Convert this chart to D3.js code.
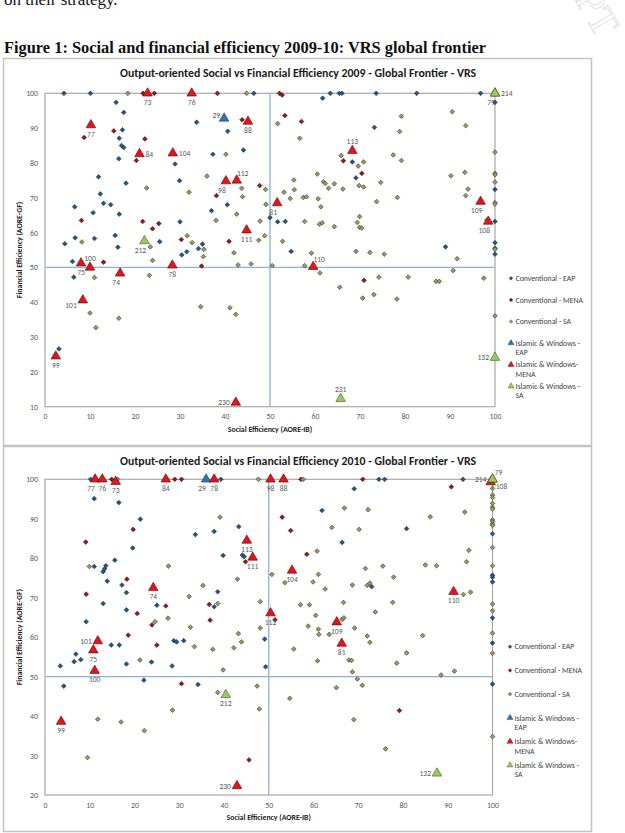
<!DOCTYPE html>
<html>
<head>
<meta charset="utf-8">
<script src="https://cdn.jsdelivr.net/npm/d3@7"></script>
<style>
  body { margin: 0; background: #fff; }
  svg { display: block; font-family: Carlito, Calibri, 'Liberation Sans', Arial, sans-serif; }
</style>
</head>
<body>
<script>
'use strict';

const xTicks = [0, 10, 20, 30, 40, 50, 60, 70, 80, 90, 100];
const yTicks2009 = [10, 20, 30, 40, 50, 60, 70, 80, 90, 100];
const yTicks2010 = [20, 30, 40, 50, 60, 70, 80, 90, 100];

const legendLabels = [
  ['Conventional - EAP'], ['Conventional - MENA'], ['Conventional - SA'],
  ['Islamic & Windows -', 'EAP'], ['Islamic & Windows-', 'MENA'], ['Islamic & Windows -', 'SA']
];

// ---- 2009 ----
const eap2009 = [
  [4.2,100],[10.1,100],[46.4,100],[63.4,100],[65.4,100],[66.0,100],[73.6,100],[82.6,100],[96.8,100],
  [15.8,97.4],[17.5,94.5],[17.2,89.5],[16.5,87.1],[17.0,85.0],[17.5,84.4],[16.4,81.2],[28.9,79.7],
  [33.7,91.7],[40.6,89.1],[44.1,83.7],[37.3,82.5],[11.9,76.0],[18.0,74.2],[29.9,74.9],[12.3,71.1],
  [13.0,68.4],[14.6,68.0],[6.6,67.4],[10.7,65.7],[16.5,65.3],[37.0,66.3],[40.5,68.0],[30.0,63.1],
  [50.0,64.3],[51.7,63.1],[53.4,63.2],[15.6,59.2],[6.7,58.5],[11.0,58.3],[4.4,56.8],[16.2,55.8],
  [35.0,56.7],[34.1,55.4],[31.5,54.5],[30.4,53.6],[25.5,57.4],[6.1,51.7],[6.4,47.2],[3.1,26.6],
  [61.7,98.6],[100,97.4],[73.2,90.2],[68.3,80.3],[69.1,75.7],[100,72.4],[100,63.2],[100,57.1],
  [100,55.5],[100,53.8],[89.0,55.9],[54.7,54.6]
];
const mena2009 = [
  [21.8,100],[24.3,100],[38.3,100],[52.1,100],[52.7,99.5],[8.7,87.3],[15.3,89.2],[22.2,86.9],
  [20.3,80.7],[43.8,92.4],[47.7,73.5],[38.1,70.6],[8.1,63.5],[21.7,63.2],[25.3,62.6],[23.9,61.1],
  [40.9,57.5],[30.3,58.0],[13.0,51.5],[34.8,50.4],[53.3,93.6],[57.0,91.9],[66.3,80.6],[70.4,77.0],
  [70.9,46.3]
];
const sa2009 = [
  [18.4,100],[44.8,100],[51.7,91.3],[40.2,82.5],[22.6,72.8],[36.0,76.2],[32.0,71.6],[43.7,72.7],
  [49.0,72.4],[43.9,70.3],[49.1,68.1],[42.6,65.3],[38.0,63.5],[47.8,63.3],[8.2,57.3],[47.5,57.8],
  [48.8,59.1],[31.6,59.1],[32.7,57.1],[35.3,55.2],[35.2,53.1],[42.0,54.2],[42.9,50.7],[45.8,51.0],
  [23.4,55.9],[23.9,52.0],[11.0,47.1],[23.2,47.7],[50.5,50.5],[10.0,36.9],[16.4,35.4],[11.3,32.7],
  [34.6,38.7],[41.1,38.4],[42.4,36.5],
  [90.5,94.7],[79.2,93.4],[93.5,90.7],[78.8,89.0],[56.6,87.1],[65.8,82.1],[70.8,80.3],[69.6,79.1],
  [77.4,82.3],[79.2,80.7],[100,83.1],[60.5,76.8],[55.3,75.1],[61.9,74.6],[62.3,74.1],[64.3,74.0],
  [63.0,72.7],[66.2,72.5],[69.8,73.5],[70.8,73.1],[74.6,74.4],[53.1,71.6],[55.4,72.3],[57.4,70.1],
  [58.1,70.3],[54.5,69.8],[60.7,69.7],[73.7,68.9],[78.3,70.1],[61.3,67.4],[90.2,76.3],[93.3,77.3],
  [100,77.0],[100,76.6],[100,74.5],[94.0,72.5],[93.5,70.6],[100,68.6],[100,68.2],[98.2,63.6],
  [100,55.2],[91.6,52.5],[57.7,63.2],[61.0,62.4],[61.6,62.8],[64.3,61.7],[69.9,64.6],[69.4,62.9],
  [69.9,61.5],[70.4,61.3],[52.8,57.5],[59.2,54.1],[69.1,54.6],[72.2,54.3],[75.4,53.8],[57.7,50.5],
  [61.1,48.4],[65.5,44.3],[74.2,47.2],[70.6,41.2],[73.1,42.2],[78.2,40.9],[80.7,47.2],[86.9,46.0],
  [87.6,46.0],[90.7,49.1],[97.5,46.9],[100,36.1]
];
const islEap2009 = [[39.8,92.8,29]];
const islMena2009 = [
  [22.8,100,73],[32.6,100,76],[10.2,90.9,77],[21.0,82.6,84],[28.4,82.8,104],[45.1,91.9,88],
  [40.2,74.8,98],[42.6,75.0,112],[51.6,68.5,81],[44.8,60.7,111],[68.3,83.5,113],[96.8,68.9,109],
  [98.5,63.2,108],[100,100,79],[8.0,51.2,75],[10.0,50.0,100],[16.7,48.3,74],[28.3,50.6,78],
  [8.4,40.6,101],[2.4,24.5,99],[42.4,11.2,230],[59.6,50.2,110]
];
const islSa2009 = [[100,100,214],[22.1,57.6,212],[65.7,12.3,231],[100,24.1,132]];
const labelPos2009 = {
  73:'b',76:'b',77:'b',84:'r',104:'r',29:'al',88:'b',98:'bl',112:'ar',81:'bl',111:'b',113:'a',
  109:'bl',108:'bl',79:'bl',214:'r',212:'bl',75:'b',100:'a',74:'bl',78:'b',101:'lb',99:'b',
  230:'l',110:'ar',231:'a',132:'l'
};

// ---- 2010 ----
const eap2010 = [
  [10.2,100],[39.3,100],[74.6,100],[75.9,100],[93.4,100],[11.0,95.1],[16.5,94.1],[21.3,89.9],
  [33.6,86.0],[37.8,86.8],[43.3,88.0],[19.6,82.6],[39.8,80.7],[44.1,80.8],[44.5,80.4],[15.6,79.5],
  [11.0,77.9],[13.6,78.1],[13.3,77.3],[13.0,76.6],[13.9,74.2],[17.2,73.2],[18.2,71.3],[38.6,71.5],
  [13.0,68.5],[25.0,68.1],[37.8,67.7],[18.2,66.9],[9.2,63.9],
  [69.1,97.6],[61.9,92.1],[80.8,87.5],[66.4,84.0],[73.0,72.8],[100,86.2],[100,75.7],[100,75.2],
  [100,74.0],[100,64.9],[100,58.5],[100,48.1],
  [49.1,59.5],[49.3,52.5],[14.8,58.0],[16.6,58.0],[6.9,55.7],[6.5,53.8],[8.0,54.3],[3.4,52.7],
  [18.2,53.2],[23.8,53.7],[28.8,59.1],[29.4,58.8],[31.0,59.1],[28.4,52.7],[22.1,49.1],[4.2,47.6],
  [34.2,48.0]
];
const mena2010 = [
  [14.9,100],[29.0,100],[30.5,100],[71.0,100],[57.2,100],[90.8,98.1],[19.7,87.3],[9.1,84.1],
  [44.8,79.1],[18.3,74.7],[9.2,70.9],[27.0,67.9],[36.7,68.3],[20.6,66.0],[23.9,63.1],[36.9,64.3],
  [51.4,64.4],[53.0,90.4],[54.9,87.0],[58.5,81.0],[18.6,60.5],[25.0,58.0],[30.5,48.2],[45.6,28.9],
  [79.2,41.4]
];
const sa2010 = [
  [16.2,100],[47.7,100],[57.7,100],[39.1,90.4],[9.9,77.9],[27.6,78.0],[43.0,74.7],[50.7,75.9],
  [35.3,73.1],[32.2,70.3],[38.6,68.5],[48.1,69.0],[24.6,63.9],[27.5,64.8],[32.5,62.5],[48.1,62.3],
  [66.9,92.7],[72.2,92.3],[93.8,91.7],[86.1,90.5],[64.1,87.8],[70.2,87.3],[60.8,81.8],[94.7,82.0],
  [94.2,79.1],[85.0,78.3],[87.5,78.1],[71.6,77.4],[75.5,78.0],[61.1,75.9],[53.6,73.8],[59.9,74.0],
  [77.9,75.2],[62.6,72.2],[68.7,73.2],[72.0,73.1],[72.6,73.7],[93.5,70.8],[95.1,71.4],[57.1,68.2],
  [59.1,68.2],[66.7,68.8],[77.7,68.8],[73.8,66.4],[60.5,65.5],[66.4,64.5],[66.8,64.9],[58.8,62.8],
  [61.1,62.0],[69.2,62.3],
  [100,97.7],[100,96.0],[100,95.4],[100,93.9],[100,92.9],[100,92.5],[100,89.7],[100,89.3],
  [100,88.7],[100,88.3],[100,82.7],[100,78.1],[100,68.4],[100,66.7],[100,61.0],[100,55.9],
  [100,34.8],
  [43.2,60.9],[43.9,58.8],[42.2,57.3],[21.2,54.2],[33.4,57.6],[37.5,56.9],[39.8,51.7],[38.6,46.0],
  [47.4,47.6],[47.9,41.8],[28.5,41.5],[11.8,39.2],[17.0,38.5],[22.2,36.3],[9.5,29.5],
  [61.2,60.7],[63.5,60.7],[72.0,60.3],[72.6,58.7],[84.4,60.4],[55.6,57.0],[60.9,54.0],[67.9,54.2],
  [68.5,54.1],[80.8,56.0],[78.6,53.4],[68.7,51.2],[69.8,49.4],[70.9,47.8],[88.5,50.4],[91.5,51.4],
  [65.1,47.2],[54.7,44.5],[69.0,39.1],[76.1,31.7]
];
const islEap2010 = [[36.0,100,29]];
const islMena2010 = [
  [11.2,100,77],[12.8,100,76],[15.8,99.4,73],[27.0,100,84],[37.8,100,78],[50.4,100,98],
  [53.3,100,88],[100,100,79],[99.6,99.3,108],[45.1,84.5,113],[46.4,80.2,111],[55.2,76.9,104],
  [24.2,72.5,74],[91.3,71.5,110],[50.4,66.1,112],[65.2,63.8,109],[66.3,58.4,81],[11.8,59.0,101],
  [10.8,56.7,75],[11.1,51.5,100],[3.6,38.6,99],[42.9,22.3,230]
];
const islSa2010 = [[100,100,214],[40.4,45.4,212],[87.6,25.5,132]];
const labelPos2010 = {
  77:'bl',76:'b',73:'b',84:'b',29:'bl',78:'b',98:'b',88:'b',214:'l',79:'ar',108:'rb',113:'b',
  111:'b',104:'b',74:'b',110:'b',112:'b',109:'b',81:'b',101:'l',75:'b',100:'b',99:'b',
  212:'b',230:'l',132:'l'
};

// label placement codes -> [dx, dy, anchor]
const labelOffsets = {
  b: [0, 9, 'middle'], a: [0, -9, 'middle'], l: [-6, 0, 'end'], r: [6, 0, 'start'],
  bl: [-4, 9, 'middle'], ar: [6, -7, 'middle'], al: [-4, -3, 'end'], lb: [-6, 5, 'end'],
  rb: [5, 4, 'start']
};

const colors = {
  eap:  { fill: '#24557f', stroke: '#163a5a' },
  mena: { fill: '#8e1c1f', stroke: '#560d0f' },
  sa:   { fill: '#9a9a64', stroke: '#3c3c22' },
  tEap: { fill: '#2e75b6', stroke: '#1b3a5c' },
  tMena:{ fill: '#e0161c', stroke: '#5c0507' },
  tSa:  { fill: '#97cc5c', stroke: '#3b5a1c' }
};

const width = 625, height = 833;
const svg = d3.select('body').append('svg')
  .attr('width', width)
  .attr('height', height);

// faint watermark at top right
svg.append('text')
  .attr('transform', 'translate(360,-372) rotate(60)')
  .attr('font-family', "'Liberation Serif', serif")
  .attr('font-size', 40)
  .attr('fill', 'none')
  .attr('stroke', '#dcdcdc')
  .attr('stroke-width', 0.8)
  .text('ACCEPTED MANUSCRIPT');

svg.append('text')
  .attr('x', 4).attr('y', 5)
  .attr('font-family', "'Liberation Serif', 'DejaVu Serif', serif")
  .attr('font-size', 17)
  .attr('fill', '#111')
  .text('on their strategy.');

svg.append('text')
  .attr('x', 4).attr('y', 53)
  .attr('font-family', "'Liberation Serif', 'DejaVu Serif', serif")
  .attr('font-size', 17)
  .attr('font-weight', 'bold')
  .attr('fill', '#111')
  .attr('textLength', 482)
  .attr('lengthAdjust', 'spacingAndGlyphs')
  .text('Figure 1: Social and financial efficiency 2009-10: VRS global frontier');

const diamond = d3.symbol(d3.symbolSquare, 11);
const triangle = d3.symbol(d3.symbolTriangle, 40);

function drawPanel(p) {
  const g = svg.append('g');

  g.append('rect')
    .attr('x', p.box[0]).attr('y', p.box[1])
    .attr('width', p.box[2]).attr('height', p.box[3])
    .attr('fill', '#fff')
    .attr('stroke', '#c3c3c3')
    .attr('stroke-width', 1.5);

  const x = d3.scaleLinear().domain([0, 100]).range([p.plot.l, p.plot.r]);
  const y = d3.scaleLinear().domain(p.yDomain).range([p.plot.b, p.plot.t]);

  g.append('text')
    .attr('x', 298).attr('y', p.titleY)
    .attr('text-anchor', 'middle')
    .attr('font-size', 11.8)
    .attr('font-weight', 'bold')
    .attr('fill', '#1a1a1a')
    .text(p.title);

  // axes
  const xAxis = g.append('g')
    .attr('transform', `translate(0,${y(p.yDomain[0])})`)
    .call(d3.axisBottom(x).tickValues(xTicks).tickSize(0).tickPadding(7));
  const yAxis = g.append('g')
    .attr('transform', `translate(${x(0)},0)`)
    .call(d3.axisLeft(y).tickValues(p.yTicks).tickSize(0).tickPadding(7));
  [xAxis, yAxis].forEach(a => {
    a.attr('font-family', null).attr('font-size', null);
    a.select('.domain').remove();
    a.selectAll('text').attr('fill', '#595959').attr('font-size', 7.8);
  });

  // plot frame
  g.append('rect')
    .attr('x', x(0)).attr('y', y(100))
    .attr('width', x(100) - x(0))
    .attr('height', y(p.yDomain[0]) - y(100))
    .attr('fill', 'none')
    .attr('stroke', '#a9a9a9')
    .attr('stroke-width', 1.2);

  // reference lines at 50
  g.append('line')
    .attr('x1', x(50)).attr('x2', x(50))
    .attr('y1', y(100)).attr('y2', y(p.yDomain[0]))
    .attr('stroke', '#8fb0d8').attr('stroke-width', 1.3);
  g.append('line')
    .attr('x1', x(0)).attr('x2', x(100))
    .attr('y1', y(50)).attr('y2', y(50))
    .attr('stroke', '#8fb0d8').attr('stroke-width', 1.3);

  g.append('text')
    .attr('x', x(50)).attr('y', p.xTitleY)
    .attr('text-anchor', 'middle')
    .attr('font-size', 7.8)
    .attr('font-weight', 'bold')
    .attr('fill', '#1a1a1a')
    .text('Social Efficiency (AORE-IB)');
  g.append('text')
    .attr('transform', `translate(22,${(p.plot.t + p.plot.b) / 2}) rotate(-90)`)
    .attr('text-anchor', 'middle')
    .attr('font-size', 7.8)
    .attr('font-weight', 'bold')
    .attr('fill', '#1a1a1a')
    .text('Financial Efficiency (AORE-GF)');

  // conventional series
  [[p.eap, colors.eap], [p.mena, colors.mena], [p.sa, colors.sa]].forEach(([data, c]) => {
    g.append('g').selectAll('path')
      .data(data)
      .join('path')
      .attr('d', diamond)
      .attr('transform', d => `translate(${x(d[0])},${y(d[1])}) rotate(45)`)
      .attr('fill', c.fill)
      .attr('stroke', c.stroke)
      .attr('stroke-width', 0.6);
  });

  // islamic & windows series
  [[p.islEap, colors.tEap], [p.islMena, colors.tMena], [p.islSa, colors.tSa]].forEach(([data, c]) => {
    g.append('g').selectAll('path')
      .data(data)
      .join('path')
      .attr('d', triangle)
      .attr('transform', d => `translate(${x(d[0])},${y(d[1])})`)
      .attr('fill', c.fill)
      .attr('stroke', c.stroke)
      .attr('stroke-width', 0.6);
  });

  // triangle labels
  const allIsl = p.islEap.concat(p.islMena, p.islSa);
  g.append('g').selectAll('text')
    .data(allIsl)
    .join('text')
    .each(function(d) {
      const o = labelOffsets[p.labelPos[d[2]] || 'b'];
      d3.select(this)
        .attr('x', x(d[0]) + o[0])
        .attr('y', y(d[1]) + o[1])
        .attr('dy', '0.35em')
        .attr('text-anchor', o[2]);
    })
    .attr('font-size', 7.6)
    .attr('fill', '#595959')
    .text(d => d[2]);

  // legend
  const leg = g.append('g');
  const legendColors = [colors.eap, colors.mena, colors.sa, colors.tEap, colors.tMena, colors.tSa];
  legendLabels.forEach((lines, i) => {
    const ly = p.legend.y0 + i * p.legend.step;
    leg.append('path')
      .attr('d', i < 3 ? d3.symbol(d3.symbolSquare, 7)() : d3.symbol(d3.symbolTriangle, 16)())
      .attr('transform', `translate(${p.legend.x},${ly})` + (i < 3 ? ' rotate(45)' : ''))
      .attr('fill', legendColors[i].fill)
      .attr('stroke', legendColors[i].stroke)
      .attr('stroke-width', 0.4);
    lines.forEach((t, j) => {
      leg.append('text')
        .attr('x', p.legend.x + 4.5)
        .attr('y', ly + j * 9.3)
        .attr('dy', '0.35em')
        .attr('font-size', 7.8)
        .attr('fill', '#404040')
        .text(t);
    });
  });
}

drawPanel({
  box: [3.5, 58.5, 588, 387],
  plot: { l: 45, r: 495, t: 93.3, b: 406.7 },
  yDomain: [10, 100], yTicks: yTicks2009,
  title: 'Output-oriented Social vs Financial Efficiency 2009 - Global Frontier - VRS',
  titleY: 77, xTitleY: 432,
  eap: eap2009, mena: mena2009, sa: sa2009,
  islEap: islEap2009, islMena: islMena2009, islSa: islSa2009,
  labelPos: labelPos2009,
  legend: { x: 511, y0: 278.3, step: 21.6 }
});

drawPanel({
  box: [3.5, 446.5, 588, 385],
  plot: { l: 45, r: 492.5, t: 479.3, b: 795 },
  yDomain: [20, 100], yTicks: yTicks2010,
  title: 'Output-oriented Social vs Financial Efficiency 2010 - Global Frontier - VRS',
  titleY: 465, xTitleY: 820,
  eap: eap2010, mena: mena2010, sa: sa2010,
  islEap: islEap2010, islMena: islMena2010, islSa: islSa2010,
  labelPos: labelPos2010,
  legend: { x: 510, y0: 646.7, step: 23.7 }
});
</script>
</body>
</html>
